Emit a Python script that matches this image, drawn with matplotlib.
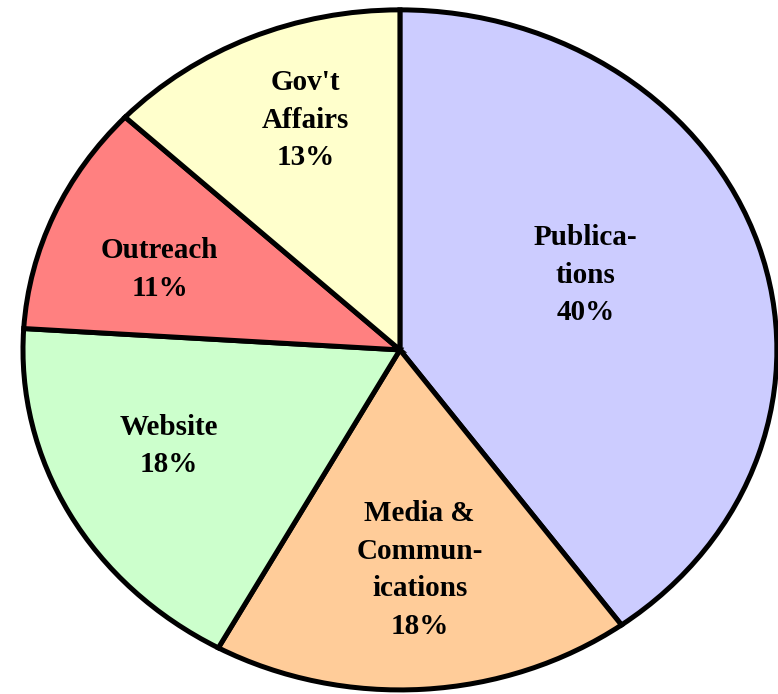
import matplotlib
matplotlib.use("Agg")
import matplotlib.pyplot as plt
import numpy as np

## data
labels = ["Publica-\ntions", "Media &\nCommun-\nications", "Website", "Outreach", "Gov't\nAffairs"]
shares = [40, 18, 18, 11, 13]
colors = ["#CCCCFF", "#FFCC99", "#CCFFCC", "#FF8080", "#FFFFCC"]
## label placement: distance from centre, angle shift (deg) from slice middle
label_dist = [0.54, 0.65, 0.675, 0.68, 0.72]
label_shift = [6, 1, -4, 3, -3]

fig = plt.figure(figsize=(7.78, 6.94), dpi=100)
ax = fig.add_axes([0, 0, 1, 1])

wedges, texts = ax.pie(shares, colors=colors, startangle=90, counterclock=False,
                       labels=[f"{l}\n{s}%" for l, s in zip(labels, shares)],
                       labeldistance=0.6,
                       wedgeprops=dict(edgecolor="black", linewidth=3.6),
                       textprops=dict(family="Liberation Serif", fontweight="bold",
                                      fontsize=21, ha="center", va="center",
                                      linespacing=1.5))

## move each label along its own ray
for w, t, d, s in zip(wedges, texts, label_dist, label_shift):
    a = np.deg2rad((w.theta1 + w.theta2) / 2 + s)
    t.set_position((d * np.cos(a), d * np.sin(a)))
    t.set_horizontalalignment("center")

## pie is stretched into an ellipse like the original
ax.set_aspect("auto")
ax.set_xlim(-1.061, 1.003)
ax.set_ylim(-1.012, 1.029)
ax.axis("off")

fig.savefig("out.png", dpi=100)
